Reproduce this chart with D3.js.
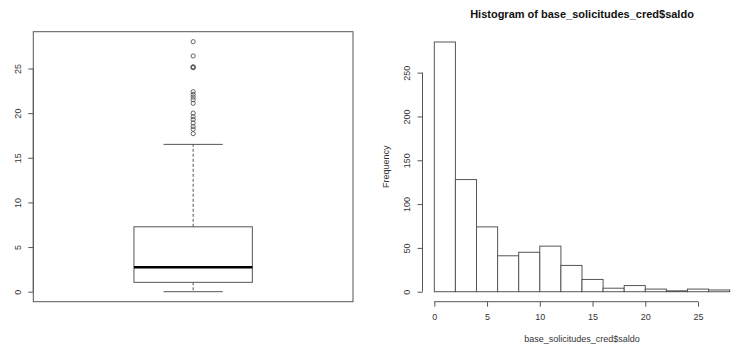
<!DOCTYPE html>
<html>
<head>
<meta charset="utf-8">
<script src="https://cdn.jsdelivr.net/npm/d3@7"></script>
<style>
  body { margin: 0; background: #fff; }
  text { font-family: "Liberation Sans", Arial, sans-serif; fill: #333; }
</style>
</head>
<body>
<div id="chart"></div>
<script>
// boxplot stats
var boxLower = 0, boxQ1 = 1.05, boxMedian = 2.75, boxQ3 = 7.27, boxUpper = 16.5;
var outliers = [17.7, 18.2, 18.5, 18.9, 19.3, 19.6, 20.0, 21.1, 21.5, 21.8, 22.1, 22.4, 25.1, 25.1, 25.2, 26.4, 28.0];
var boxTicks = [0, 5, 10, 15, 20, 25];

// histogram
var breaks = [0, 2, 4, 6, 8, 10, 12, 14, 16, 18, 20, 22, 24, 26, 28];
var counts = [285, 128, 74, 41, 45, 52, 30, 14, 4, 7, 3, 1, 3, 2];
var histXTicks = [0, 5, 10, 15, 20, 25];
var histYTicks = [0, 50, 100, 150, 200, 250];
var histTitle = "Histogram of base_solicitudes_cred$saldo";
var histXLabel = "base_solicitudes_cred$saldo";
var histYLabel = "Frequency";

(function () {
    var width = 736, height = 349;
    var lineCol = "#555";

    var svg = d3.select("#chart").append("svg")
        .attr("width", width)
        .attr("height", height);

    // ---- left: boxplot ----
    var top = 31.7, bottom = 301.7;
    var bx = d3.scaleLinear().domain([0.46, 1.54]).range([33.3, 353]);
    var by = d3.scaleLinear().domain([-1.12, 29.12]).range([bottom, top]);

    var left = svg.append("g");

    left.append("rect")
        .attr("x", bx(0.46)).attr("y", top)
        .attr("width", bx(1.54) - bx(0.46)).attr("height", bottom - top)
        .attr("fill", "none").attr("stroke", lineCol);

    var ay = left.append("g")
        .attr("transform", "translate(" + bx(0.46) + ",0)")
        .call(d3.axisLeft(by).tickValues(boxTicks).tickSize(5).tickPadding(0).tickFormat(d3.format("d")));
    ay.select(".domain").attr("stroke", lineCol).attr("d", "M0," + by(0) + "V" + by(25));
    ay.selectAll(".tick line").attr("stroke", lineCol);
    ay.selectAll(".tick text")
        .attr("transform", "rotate(-90)")
        .attr("x", 0).attr("y", -15).attr("dy", "0.35em")
        .attr("text-anchor", "middle")
        .style("font-size", "9px").style("fill", "#333")
        .style("font-family", "'Liberation Sans', Arial, sans-serif");

    // whiskers
    left.append("line")
        .attr("x1", bx(1)).attr("x2", bx(1))
        .attr("y1", by(boxQ3)).attr("y2", by(boxUpper))
        .attr("stroke", lineCol).attr("stroke-dasharray", "3,2");
    left.append("line")
        .attr("x1", bx(1)).attr("x2", bx(1))
        .attr("y1", by(boxQ1)).attr("y2", by(boxLower))
        .attr("stroke", lineCol).attr("stroke-dasharray", "3,2");
    [boxUpper, boxLower].forEach(function (v) {
        left.append("line")
            .attr("x1", bx(0.9)).attr("x2", bx(1.1))
            .attr("y1", by(v)).attr("y2", by(v))
            .attr("stroke", lineCol);
    });

    left.append("rect")
        .attr("x", bx(0.8)).attr("y", by(boxQ3))
        .attr("width", bx(1.2) - bx(0.8)).attr("height", by(boxQ1) - by(boxQ3))
        .attr("fill", "none").attr("stroke", lineCol);
    left.append("line")
        .attr("x1", bx(0.8)).attr("x2", bx(1.2))
        .attr("y1", by(boxMedian)).attr("y2", by(boxMedian))
        .attr("stroke", "#000").attr("stroke-width", 2.5);

    left.selectAll(".out")
        .data(outliers)
        .enter().append("circle")
        .attr("class", "out")
        .attr("cx", bx(1))
        .attr("cy", function (d) { return by(d); })
        .attr("r", 2.1)
        .attr("fill", "none")
        .attr("stroke", lineCol)
        .attr("stroke-width", 0.9);

    // ---- right: histogram ----
    var hx = d3.scaleLinear().domain([-1.12, 29.12]).range([422.5, 741.5]);
    var hy = d3.scaleLinear().domain([-11.4, 296.4]).range([bottom, 32]);

    var right = svg.append("g");

    right.selectAll(".bar")
        .data(counts)
        .enter().append("rect")
        .attr("class", "bar")
        .attr("x", function (d, i) { return hx(breaks[i]); })
        .attr("width", function (d, i) { return hx(breaks[i + 1]) - hx(breaks[i]); })
        .attr("y", function (d) { return hy(d); })
        .attr("height", function (d) { return hy(0) - hy(d); })
        .attr("fill", "#fff")
        .attr("stroke", lineCol);

    var hxa = right.append("g")
        .attr("transform", "translate(0," + bottom + ")")
        .call(d3.axisBottom(hx).tickValues(histXTicks).tickSize(5).tickPadding(7).tickFormat(d3.format("d")));
    hxa.select(".domain").attr("stroke", lineCol).attr("d", "M" + hx(0) + ",0H" + hx(25));
    hxa.selectAll(".tick line").attr("stroke", lineCol);
    hxa.selectAll(".tick text")
        .style("font-size", "9px").style("fill", "#333")
        .style("font-family", "'Liberation Sans', Arial, sans-serif");

    var hya = right.append("g")
        .attr("transform", "translate(" + hx(-1.12) + ",0)")
        .call(d3.axisLeft(hy).tickValues(histYTicks).tickSize(5).tickPadding(0).tickFormat(d3.format("d")));
    hya.select(".domain").attr("stroke", lineCol).attr("d", "M0," + hy(0) + "V" + hy(250));
    hya.selectAll(".tick line").attr("stroke", lineCol);
    hya.selectAll(".tick text")
        .attr("transform", "rotate(-90)")
        .attr("x", 0).attr("y", -16).attr("dy", "0.35em")
        .attr("text-anchor", "middle")
        .style("font-size", "9px").style("fill", "#333")
        .style("font-family", "'Liberation Sans', Arial, sans-serif");

    var midX = (hx(-1.12) + hx(29.12)) / 2;

    right.append("text")
        .attr("x", midX).attr("y", 18)
        .attr("text-anchor", "middle")
        .style("font-size", "11px").style("font-weight", "bold").style("fill", "#111")
        .text(histTitle);

    right.append("text")
        .attr("x", midX).attr("y", 341.5)
        .attr("text-anchor", "middle")
        .style("font-size", "9px")
        .text(histXLabel);

    right.append("text")
        .attr("transform", "translate(386," + (bottom + 32) / 2 + ") rotate(-90)")
        .attr("dy", "0.35em")
        .attr("text-anchor", "middle")
        .style("font-size", "9px")
        .text(histYLabel);
})();
</script>
</body>
</html>
